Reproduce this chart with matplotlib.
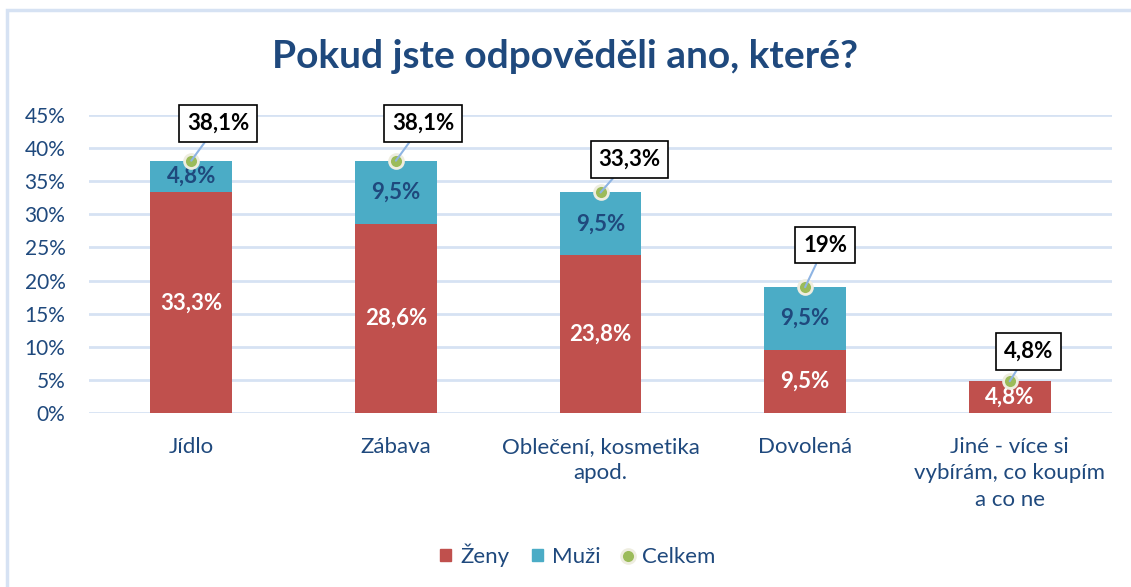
import matplotlib.pyplot as plt
from matplotlib.patches import Rectangle
from matplotlib.lines import Line2D
import numpy as np

plt.rcParams['font.family'] = ['Lato', 'DejaVu Sans']

kategorie = ['Jídlo', 'Zábava', 'Oblečení, kosmetika\napod.', 'Dovolená',
             'Jiné - více si\nvybírám, co koupím\na co ne']
zeny = [33.3, 28.6, 23.8, 9.5, 4.8]
muzi = [4.8, 9.5, 9.5, 9.5, 0.0]
celkem = [38.1, 38.1, 33.3, 19.0, 4.8]

RED = '#C0504D'
BLUE = '#4BACC6'
GREEN = '#9BBB59'
NAVY = '#1F497D'


def pct(v):
    return ('%g' % v).replace('.', ',') + '%'


fig = plt.figure(figsize=(11.31, 5.87), dpi=100)
ax = fig.add_axes([0.0787, 0.2964, 0.9045, 0.5077])

# ramecek grafu
fig.patches.append(Rectangle((7 / 1131, -0.1), 1.2, 1 - 10 / 587 + 0.1,
                             transform=fig.transFigure, fill=False,
                             edgecolor='#D6E2F3', linewidth=2.5))

x = np.arange(len(kategorie))
z = np.array(zeny) / 100
m = np.array(muzi) / 100
c = np.array(celkem) / 100

ax.bar(x, z, width=0.4, color=RED, zorder=2, label='Ženy')
ax.bar(x, m, width=0.4, bottom=z, color=BLUE, zorder=2, label='Muži')

for i in range(len(x)):
    ax.text(x[i], z[i] / 2, pct(zeny[i]), ha='center', va='center',
            color='white', fontsize=16, fontweight='bold', zorder=4)
    if muzi[i] > 0:
        ax.text(x[i], z[i] + m[i] / 2, pct(muzi[i]), ha='center', va='center',
                color=NAVY, fontsize=16, fontweight='bold', zorder=4)

ax.plot(x, c, linestyle='none', marker='o', markersize=10,
        markerfacecolor=GREEN, markeredgecolor='#EEEDDF', markeredgewidth=2,
        zorder=5)

offs = [(27, 37), (27, 37), (29, 33), (20, 42), (19, 30)]
for i in range(len(x)):
    ax.annotate(pct(celkem[i]), xy=(x[i], c[i]), xytext=offs[i],
                textcoords='offset pixels', ha='center', va='center',
                fontsize=16, fontweight='bold', color='black',
                bbox=dict(boxstyle='square,pad=0.35', fc='white', ec='black', lw=1.2),
                arrowprops=dict(arrowstyle='-', color='#8EB4E3', lw=1.5,
                                shrinkA=0, shrinkB=0),
                annotation_clip=False, zorder=6)

ax.set_xlim(-0.5, 4.5)
ax.set_ylim(0, 0.45)
ax.set_yticks(np.arange(0, 0.46, 0.05))
ax.set_yticklabels(['%d%%' % round(v * 100) for v in np.arange(0, 0.46, 0.05)])
ax.set_xticks(x)
ax.set_xticklabels(kategorie)
ax.tick_params(axis='both', length=0, colors=NAVY)
ax.tick_params(axis='y', pad=17, labelsize=15)
ax.tick_params(axis='x', pad=17, labelsize=16)
for t in ax.get_xticklabels():
    t.set_linespacing(1.42)
ax.grid(axis='y', color='#D6E2F3', linewidth=2, zorder=0)
ax.set_axisbelow(True)
for s in ax.spines.values():
    s.set_visible(False)

fig.text(0.5, 1 - 57 / 587, 'Pokud jste odpověděli ano, které?', ha='center',
         va='center', fontsize=28, fontweight='bold', color=NAVY)

handles = [
    Rectangle((0, 0), 1, 1, color=RED),
    Rectangle((0, 0), 1, 1, color=BLUE),
    Line2D([], [], linestyle='none', marker='o', markersize=10,
           markerfacecolor=GREEN, markeredgecolor='#EEEDDF', markeredgewidth=2),
]
fig.legend(handles, ['Ženy', 'Muži', 'Celkem'], loc='center',
           bbox_to_anchor=(578 / 1131, 1 - 555 / 587), ncol=3, frameon=False,
           fontsize=16, labelcolor=NAVY, handlelength=0.5, handleheight=0.5,
           handletextpad=0.4, columnspacing=1.0)

fig.savefig('out.png', dpi=100)
